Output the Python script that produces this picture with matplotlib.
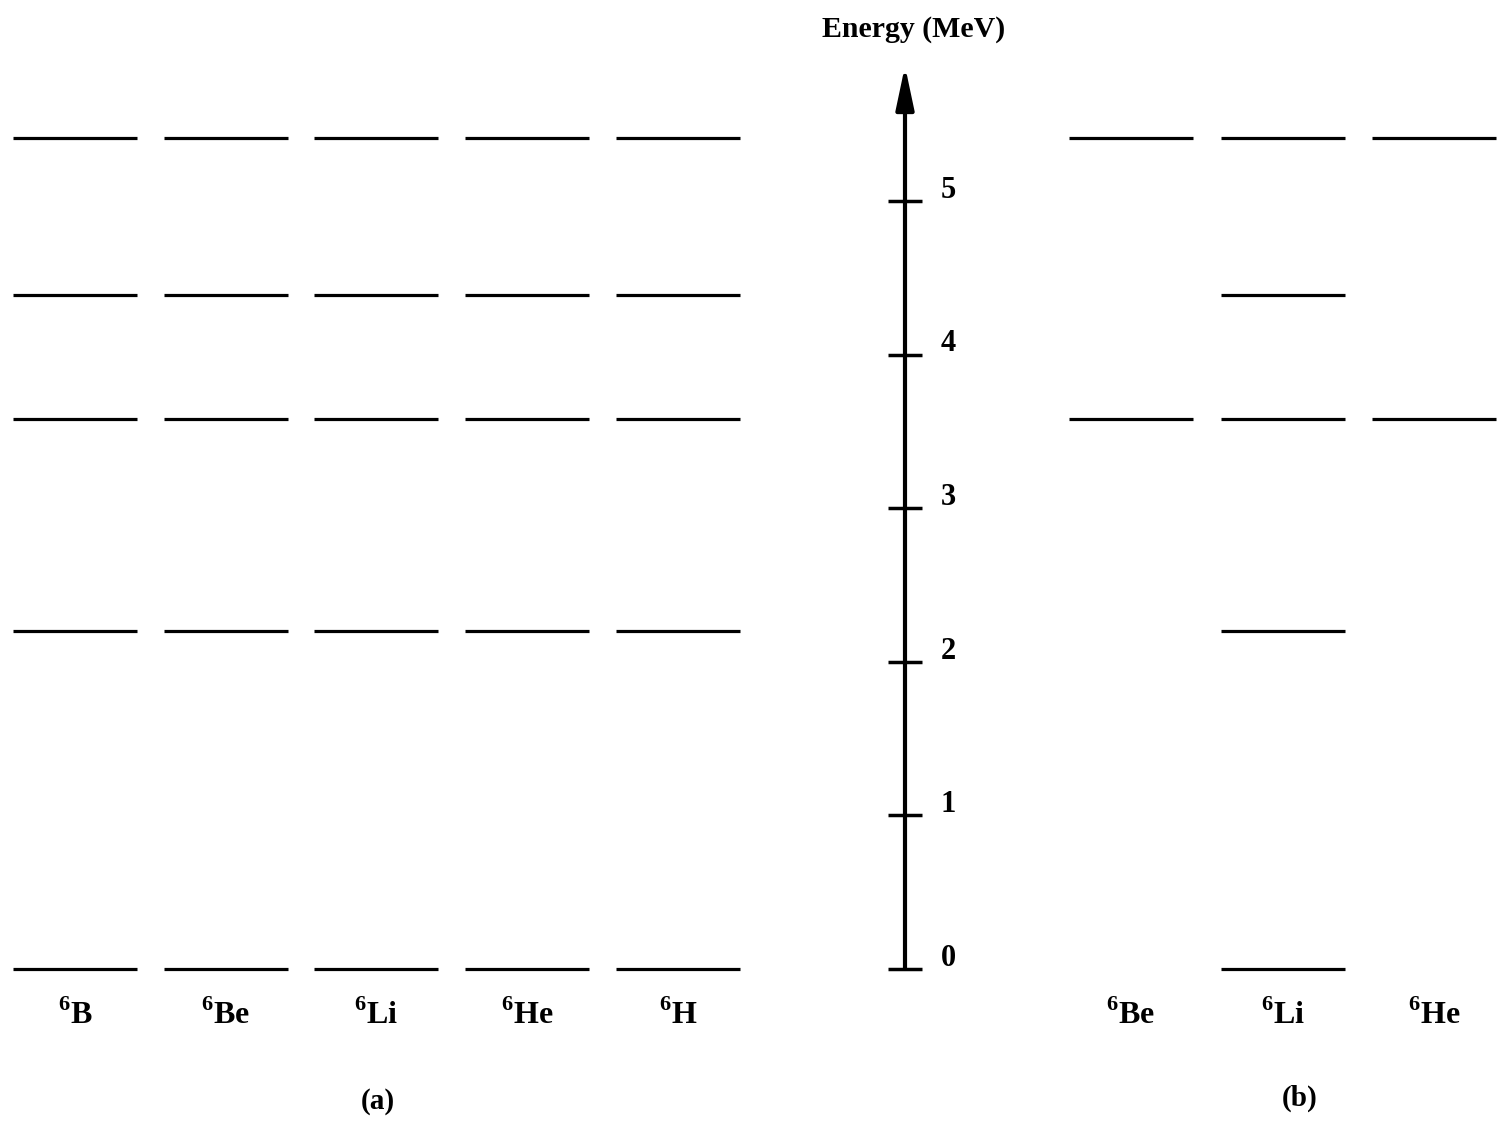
import matplotlib
matplotlib.use("Agg")
import matplotlib.pyplot as plt

plt.rcParams['font.family'] = ['Liberation Serif', 'DejaVu Serif']
plt.rcParams['font.weight'] = 'bold'
plt.rcParams['mathtext.fontset'] = 'custom'
plt.rcParams['mathtext.rm'] = 'Liberation Serif:bold'
plt.rcParams['mathtext.bf'] = 'Liberation Serif:bold'

# Energy levels in MeV
levels_a = [0.0, 2.20, 3.58, 4.39, 5.41]
nuclei_a = ["B", "Be", "Li", "He", "H"]

nuclei_b = ["Be", "Li", "He"]
levels_b = {
    "Be": [3.58, 5.41],
    "Li": [0.0, 2.20, 3.58, 4.39, 5.41],
    "He": [3.58, 5.41],
}

ticks = [0, 1, 2, 3, 4, 5]

# layout (horizontal positions in pixel-like units)
cols_a = [75, 226, 376, 527, 678]
cols_b = [1131, 1283, 1434]
half_w = 62
axis_x = 905

fig = plt.figure(figsize=(15, 11.22), dpi=100)
ax = fig.add_axes([0, 0, 1, 1])
ax.set_xlim(0, 1500)
ax.set_ylim(-0.996, 6.309)
ax.axis("off")

# (a) levels
for xc, name in zip(cols_a, nuclei_a):
    for e in levels_a:
        ax.plot([xc - half_w, xc + half_w], [e, e], color="black", lw=2.3,
                solid_capstyle="butt")
    ax.text(xc, -0.30, r"$^{6}$" + name, ha="center", va="center", fontsize=23)

# (b) levels
for xc, name in zip(cols_b, nuclei_b):
    for e in levels_b[name]:
        ax.plot([xc - half_w, xc + half_w], [e, e], color="black", lw=2.3,
                solid_capstyle="butt")
    ax.text(xc, -0.30, r"$^{6}$" + name, ha="center", va="center", fontsize=23)

# energy axis with arrow
ax.annotate("", xy=(axis_x, 5.88), xytext=(axis_x, 0),
            arrowprops=dict(arrowstyle="-|>,head_length=2.6,head_width=0.55",
                            color="black", lw=3, shrinkA=0, shrinkB=0))
for t in ticks:
    ax.plot([axis_x - 17, axis_x + 17], [t, t], color="black", lw=2.5,
            solid_capstyle="butt")
    ax.text(axis_x + 43, t + 0.07, str(t), ha="center", va="center", fontsize=22)

ax.text(914, 6.12, "Energy (MeV)", ha="center", va="center", fontsize=21.5)

ax.text(378, -0.86, "(a)", ha="center", va="center", fontsize=21)
ax.text(1300, -0.84, "(b)", ha="center", va="center", fontsize=21)

fig.savefig("out.png", dpi=100)
